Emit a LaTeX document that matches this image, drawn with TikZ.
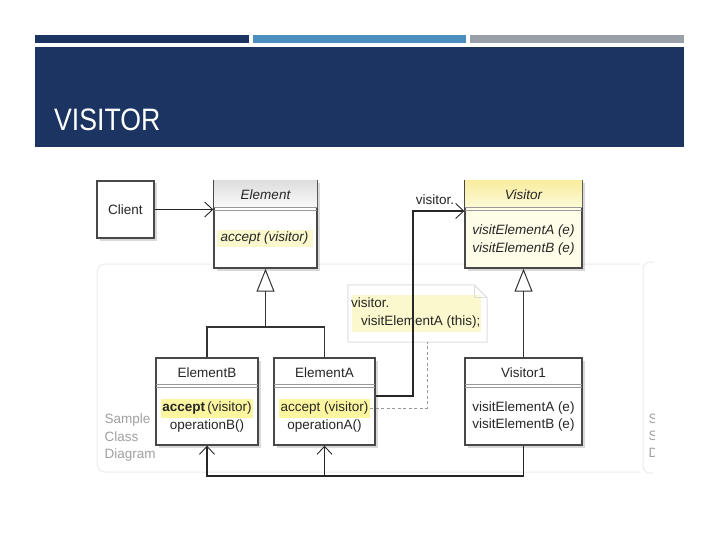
\documentclass[tikz,border=0pt]{standalone}
\usepackage{fontspec}
\setmainfont{Liberation Sans}
\newfontfamily\titlefont[FakeStretch=0.86]{Liberation Sans}
\usetikzlibrary{positioning, calc, arrows.meta, shadows}

\definecolor{navy}{RGB}{28,52,97}
\definecolor{barblue}{RGB}{74,143,190}
\definecolor{bargray}{RGB}{154,160,167}
\definecolor{boxline}{RGB}{72,72,72}
\definecolor{hiyellow}{RGB}{253,246,160}
\definecolor{paleyellow}{RGB}{251,248,205}
\definecolor{visbody}{RGB}{255,253,232}
\definecolor{panelgray}{RGB}{236,236,236}
\definecolor{labelgray}{RGB}{160,160,160}

\tikzset{
  umlfont/.style={font=\fontsize{13.5}{15}\selectfont, text=black!85},
  umlitalic/.style={font=\fontsize{13.5}{15}\selectfont\itshape, text=black!85},
  classbox/.style={draw=boxline, line width=1.4pt, fill=white, inner sep=0pt,
    drop shadow={shadow xshift=2.5pt, shadow yshift=-2.5pt, opacity=0.15, fill=black}},
  sepline/.style={draw=black!40, line width=0.9pt},
  assoc/.style={draw=black!85, line width=1.8pt,
    -{Straight Barb[length=8pt, width=15pt, line width=0.9pt]}},
  inherit/.style={draw=black!80, line width=1.1pt},
  gentip/.style={-{Triangle[open, length=23pt, width=18pt, line width=1pt]}},
  noteline/.style={draw=black!13, line width=1pt},
  notelink/.style={draw=black!40, line width=0.9pt, dash pattern=on 3pt off 2.5pt},
  paneltext/.style={font=\fontsize{13.5}{15}\selectfont, text=labelgray, anchor=west},
}

\begin{document}
\begin{tikzpicture}[x=1pt, y=-1pt]
  \useasboundingbox (0,0) rectangle (720,540);
  \fill[white] (0,0) rectangle (720,540);

  % slide header
  \fill[navy] (35,35) rectangle (249,43);
  \fill[barblue] (253,35) rectangle (466,43);
  \fill[bargray] (470,35) rectangle (684,43);
  \fill[navy] (35,47) rectangle (684,147);
  \node[anchor=base west, text=white, inner sep=0pt,
    font=\titlefont\fontsize{31}{34}\selectfont] (title) at (54,131) {VISITOR};

  % diagram panels
  \draw[panelgray, line width=1pt, rounded corners=8pt]
    (640,264) -- (97,264) -- (97,472) -- (640,472);
  \node[paneltext] (panelA) at (101,420) {Sample};
  \node[paneltext] (panelB) at (101,437) {Class};
  \node[paneltext] (panelC) at (101,455) {Diagram};
  \begin{scope}
    \clip (630,250) rectangle (654,485);
    \draw[panelgray, line width=1pt, rounded corners=7pt]
      (670,262) -- (643,262) -- (643,473) -- (670,473);
    \node[paneltext] (panelD) at (645,420) {Sample};
    \node[paneltext] (panelE) at (645,437) {Sequence};
    \node[paneltext] (panelF) at (645,454) {Diagram};
  \end{scope}

  % note
  \node[minimum width=139pt, minimum height=57pt, inner sep=0pt] (note) at (417.5,313.5) {};
  \fill[white] (note.south west) -- (note.north west) -- ([xshift=-13pt]note.north east)
    -- ([yshift=-13pt]note.north east) -- (note.south east) -- cycle;
  \fill[paleyellow] (352,295) rectangle (481,332);
  \draw[noteline] (note.south west) -- (note.north west) -- ([xshift=-13pt]note.north east)
    -- ([yshift=-13pt]note.north east) -- (note.south east) -- cycle;
  \draw[noteline] ([xshift=-13pt]note.north east) |- ([yshift=-13pt]note.north east);
  \node[umlfont, anchor=west, inner sep=0pt] (noteLineA) at (351,303) {visitor.};
  \node[umlfont, anchor=west, inner sep=0pt] (noteLineB) at (361,322) {visitElementA (this);};
  \coordinate (noteFoot) at (427,342);

  % classes
  \node[classbox, umlfont, minimum width=57pt, minimum height=57pt] (client) at (125.5,209.5) {Client};
  \node[classbox, minimum width=103pt, minimum height=87pt] (element) at (265.5,224.5) {};
  \node[classbox, fill=visbody, minimum width=117pt, minimum height=87pt] (visitor) at (523.5,224.5) {};
  \node[classbox, minimum width=102pt, minimum height=87pt] (elemB) at (207,401.5) {};
  \node[classbox, minimum width=101pt, minimum height=87pt] (elemA) at (324.5,401.5) {};
  \node[classbox, minimum width=117pt, minimum height=87pt] (visitorOne) at (523.5,401.5) {};

  \shade[top color=black!13, bottom color=black!2]
    ([shift={(0.7pt,-0.7pt)}]element.north west) rectangle ([shift={(-0.7pt,-27pt)}]element.north east);
  \shade[top color={rgb,255:red,248;green,237;blue,160}, bottom color={rgb,255:red,253;green,250;blue,215}]
    ([shift={(0.7pt,-0.7pt)}]visitor.north west) rectangle ([shift={(-0.7pt,-27pt)}]visitor.north east);

  \foreach \c in {element, visitor, elemB, elemA, visitorOne}{
    \draw[sepline] ([shift={(0.7pt,-27pt)}]\c.north west) -- ([shift={(-0.7pt,-27pt)}]\c.north east);
    \draw[sepline] ([shift={(0.7pt,-30.5pt)}]\c.north west) -- ([shift={(-0.7pt,-30.5pt)}]\c.north east);
  }

  \node[umlitalic] (elementName) at (265.5,195) {Element};
  \node[umlitalic, fill=paleyellow, minimum width=96pt, minimum height=17pt, inner sep=0pt]
    (acceptE) at (264.5,238.5) {accept (visitor)};

  \node[umlitalic] (visitorName) at (523.5,195) {Visitor};
  \node[umlitalic] (visitA) at (523.5,231) {visitElementA (e)};
  \node[umlitalic] (visitB) at (523.5,249) {visitElementB (e)};

  \node[umlfont] (elemBName) at (207,373) {ElementB};
  \node[umlfont, fill=hiyellow, minimum width=92pt, minimum height=19pt, inner sep=0pt]
    (acceptB) at (207,408) {\textbf{accept}\,(visitor)};
  \node[umlfont] (operB) at (207,426) {operationB()};

  \node[umlfont] (elemAName) at (324.5,373) {ElementA};
  \node[umlfont, fill=hiyellow, minimum width=91pt, minimum height=19pt, inner sep=0pt]
    (acceptA) at (324.5,408) {accept (visitor)};
  \node[umlfont] (operA) at (324.5,426) {operationA()};

  \node[umlfont] (visitorOneName) at (523.5,373) {Visitor1};
  \node[umlfont] (visitOneA) at (523.5,408) {visitElementA (e)};
  \node[umlfont] (visitOneB) at (523.5,425) {visitElementB (e)};

  % connectors
  \draw[assoc] (client.east) -- (client.east -| element.west);

  \coordinate (elemJoin) at (265.5,327);
  \draw[inherit, gentip] (elemJoin) -- (element.south);
  \draw[inherit] (elemB.north) |- (elemJoin) -| (elemA.north);
  \draw[inherit, gentip] (visitorOne.north) -- (visitor.south);

  \coordinate (visBend) at (413,211);
  \draw[assoc] ([yshift=5.5pt]elemA.east) -| (visBend) -- (visBend -| visitor.west);
  \node[umlfont, anchor=south] (visLabel) at (435,208) {visitor.};

  \draw[notelink] (acceptA.east) -| (noteFoot);

  \coordinate (botJoin) at (207,476);
  \draw[assoc] (visitorOne.south) |- (botJoin) -- (elemB.south);
  \draw[assoc] (elemA.south |- botJoin) -- (elemA.south);
\end{tikzpicture}
\end{document}
